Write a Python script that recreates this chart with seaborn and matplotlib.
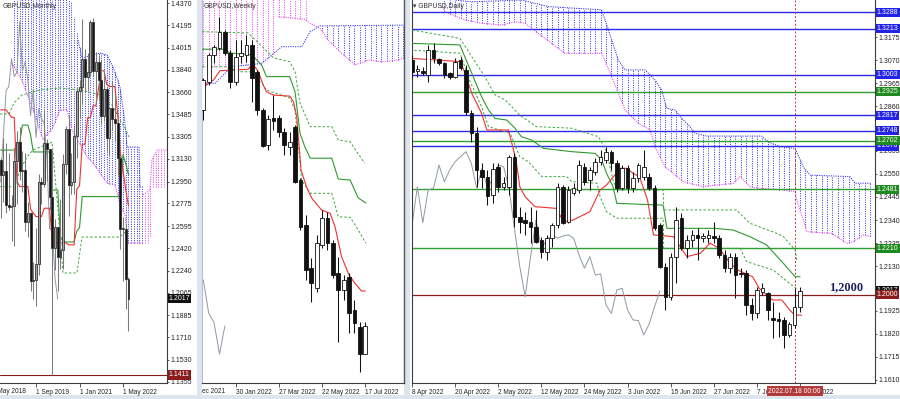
import numpy as np
import pandas as pd
import seaborn as sns
import matplotlib
matplotlib.use("Agg")
import matplotlib.pyplot as plt
import matplotlib.transforms as mtransforms
from matplotlib.patches import Rectangle

# ====================== DATA ======================
# ---- Monthly GBPUSD (Aug 2018 .. Jul 2022), index 0..47
M_open = [1.3120,1.2998,1.3034,1.2767,1.2749,1.2755,1.3114,1.3263,1.3030,1.3040,1.2630,1.2697,1.2162,1.2164,1.2291,1.2944,
          1.2932,1.3256,1.3208,1.2823,1.2418,1.2590,1.2346,1.2402,1.3093,1.3370,1.2920,1.2946,1.3313,1.3672,1.3705,1.3927,
          1.3785,1.3820,1.4222,1.3828,1.3902,1.3758,1.3474,1.3683,1.3300,1.3532,1.3447,1.3416,1.3138,1.2573,1.2575,1.2177]
M_high = [1.3140,1.3298,1.3258,1.3176,1.2840,1.3215,1.3350,1.3382,1.3196,1.3176,1.2783,1.2708,1.2310,1.2582,1.3012,1.2985,
          1.3515,1.3285,1.3200,1.3200,1.2648,1.2515,1.2813,1.3170,1.3394,1.3482,1.3177,1.3399,1.3703,1.3759,1.4240,1.4002,
          1.3976,1.4234,1.4250,1.3984,1.3959,1.3913,1.3834,1.3698,1.3546,1.3749,1.3643,1.3437,1.3167,1.2667,1.2618,1.2190]
M_low = [1.2662,1.2786,1.2696,1.2723,1.2477,1.2437,1.2773,1.2960,1.2866,1.2560,1.2506,1.2080,1.2015,1.1959,1.2205,1.2770,
         1.2905,1.2954,1.2725,1.1409,1.2247,1.2075,1.2252,1.2252,1.3006,1.2676,1.2853,1.2854,1.3135,1.3452,1.3566,1.3670,
         1.3669,1.3800,1.3786,1.3572,1.3602,1.3411,1.3434,1.3194,1.3161,1.3358,1.3273,1.3000,1.2411,1.2155,1.1933,1.1760]
M_close = [1.2998,1.3034,1.2767,1.2749,1.2755,1.3114,1.3263,1.3030,1.3040,1.2630,1.2697,1.2162,1.2164,1.2291,1.2944,1.2932,
           1.3256,1.3208,1.2823,1.2418,1.2590,1.2346,1.2402,1.3093,1.3370,1.2920,1.2946,1.3313,1.3672,1.3705,1.3927,1.3785,
           1.3820,1.4222,1.3828,1.3902,1.3758,1.3474,1.3683,1.3300,1.3532,1.3447,1.3416,1.3138,1.2573,1.2575,1.2177,1.2017]
M_tenkan = [1.3520,1.3520,1.3520,1.3490,1.3460,1.3460,1.2955,1.2910,1.2910,1.2910,1.2910,1.2731,1.2699,1.2671,1.2671,1.2671,
            1.2737,1.2737,1.2737,1.2462,1.2462,1.2462,1.2462,1.2462,1.2462,1.2446,1.2446,1.2446,1.2889,1.2917,1.3246,1.3246,
            1.3458,1.3458,1.3552,1.3552,1.3693,1.3831,1.3831,1.3722,1.3706,1.3706,1.3706,1.3492,1.3185,1.3034,1.2884,1.2755]
M_kijun = [1.3200,1.3200,1.3200,1.3200,1.3200,1.3200,1.3256,1.3256,1.3399,1.3399,1.3399,1.3320,1.3185,1.3185,1.3185,1.3185,
           1.3185,1.3185,1.3185,1.2882,1.2882,1.2882,1.2513,1.2469,1.2469,1.2469,1.2469,1.2469,1.2556,1.2584,1.2830,1.2830,
           1.2830,1.2830,1.2830,1.2830,1.2830,1.2830,1.2830,1.2830,1.2830,1.2830,1.2830,1.2830,1.2830,1.3163,1.3092,1.3005]
M_dashA_x = [-0.235,3.07,4.91,7.85,14.47,21.82,29.18,36.53,40.94,43.88,45.72,47.19]
M_dashA_y = [1.3487,1.3487,1.3575,1.3638,1.3678,1.3694,1.3678,1.3638,1.3559,1.3439,1.3376,1.3304]
M_dashB_x = [-0.235,5.28,7.12,9.69,11.9,18.15,18.88,21.09,22.93,28.07,29.91,43.88,45.72]
M_dashB_y = [1.2909,1.2909,1.3042,1.3145,1.3201,1.3256,1.3264,1.2723,1.2222,1.2222,1.2508,1.2508,1.2548]
# monthly cloud outlines (bar index, price)
M_cloud_top_x = [4.18, 25.5, 28.44, 29.91, 36.53, 39.1, 41.31, 43.88, 45.72, 46.46, 50.87, 51.24, 52.34]
M_cloud_top_y = [1.4450, 1.4450, 1.4076, 1.3932, 1.3972, 1.3956, 1.3861, 1.3702, 1.3415, 1.3224, 1.3224, 1.2906, 1.2906]
M_cloud_bot_x = [4.18, 8.22, 11.9, 15.57, 19.25, 21.82, 24.4, 26.24, 31.75, 33.96, 39.1, 42.04, 43.88, 45.72, 46.82, 52.34]
M_cloud_bot_y = [1.3893, 1.3734, 1.3519, 1.3280, 1.3384, 1.3519, 1.3519, 1.3360, 1.3145, 1.3097, 1.2938, 1.2922, 1.2763,
                 1.2684, 1.2461, 1.2461]
M_pink_top_x = [52.34, 54.9, 55.65, 57.49, 61.16]
M_pink_top_y = [1.2843, 1.2882, 1.3121, 1.3201, 1.3201]
M_pink_bot_x = [52.34, 54.9, 55.65, 61.16]
M_pink_bot_y = [1.2461, 1.2461, 1.2906, 1.2906]
M_ticks = [1.4370,1.4195,1.4015,1.3840,1.3660,1.3485,1.3305,1.3130,1.2950,1.2775,1.2595,1.2420,1.2240,1.2065,1.1885,1.1710,1.1530,1.1355]
M_dates = ["1 May 2018", "1 Sep 2019", "1 Jan 2021", "1 May 2022"]
M_date_pos = [-3, 13, 29, 45]
M_last = 1.2017
M_low_level = 1.1411

# ---- Weekly GBPUSD (week of 19 Dec 2021 .. 17 Jul 2022), index 0..30
W_open = [1.3229,1.3386,1.3537,1.3576,1.3665,1.3548,1.3386,1.3531,1.3537,1.3593,1.3442,1.3229,1.3034,1.3185,1.3185,1.3107,
          1.3023,1.3135,1.2838,1.2587,1.2347,1.2235,1.2475,1.2626,1.2486,1.2319,1.2224,1.2297,1.2112,1.2017,1.1866]
W_high = [1.3408,1.3548,1.3593,1.3749,1.3676,1.3565,1.3621,1.3621,1.3648,1.3621,1.3453,1.3241,1.3202,1.3313,1.3202,1.3129,
          1.3107,1.3146,1.2850,1.2643,1.2403,1.2531,1.2671,1.2660,1.2503,1.2408,1.2308,1.2319,1.2168,1.2045,1.2045]
W_low = [1.3174,1.3369,1.3492,1.3565,1.3537,1.3352,1.3369,1.3492,1.3498,1.3274,1.3202,1.3023,1.3006,1.3118,1.3079,1.2978,
         1.2978,1.2822,1.2559,1.2280,1.2157,1.2213,1.2459,1.2447,1.2291,1.1933,1.2168,1.1984,1.1984,1.1766,1.1866]
W_close = [1.3397,1.3537,1.3581,1.3665,1.3548,1.3386,1.3526,1.3548,1.3593,1.3408,1.3229,1.3028,1.3179,1.3168,1.3107,1.3034,
           1.3051,1.2827,1.2576,1.2336,1.2263,1.2486,1.2626,1.2486,1.2308,1.2224,1.2280,1.2095,1.2040,1.1866,1.2023]
W_tenkan_x = [-0.2,0.6,1.9,3.1,8.3,9.1,10.2,11.1,11.7,13,16,16.7,17.3,18.1,19.1,20.1,21.9,23.5,24.4,25.6,27,28.1,29.3,30]
W_tenkan_y = [1.3401,1.3369,1.3397,1.3449,1.3457,1.3490,1.3443,1.3369,1.3331,1.3313,1.3307,1.3276,1.3192,1.2894,1.2801,
              1.2736,1.2671,1.2652,1.2577,1.2410,1.2307,1.2261,1.2218,1.2218]
W_kijun_x = [-0.2,4.0,4.9,9.0,10.8,11.7,16.0,17.0,17.9,18.8,19.8,23.8,25.0,27.2,28.7,30.1]
W_kijun_y = [1.3569,1.3569,1.3548,1.3537,1.3481,1.3416,1.3416,1.3330,1.3101,1.3024,1.2960,1.2960,1.2844,1.2838,1.2738,1.2710]
W_dashA_x = [-0.2,8.3,10.8,13.0,16.0,17.0,17.9,19.8,23.8,25.0,27.2,28.4,29.9]
W_dashA_y = [1.3667,1.3660,1.3587,1.3520,1.3499,1.3443,1.3269,1.3136,1.3136,1.3062,1.3052,1.2997,1.2932]
W_dashB_x = [-0.2,4.6,6.5,8.6,10.8,11.7,16.0,17.0,18.2,19.8,23.8,25.0,27.2,28.7,30.1]
W_dashB_y = [1.3471,1.3471,1.3443,1.3443,1.3380,1.3341,1.3297,1.3229,1.2838,1.2764,1.2764,1.2633,1.2630,1.2559,1.2485]
W_spanA_x = [-0.2,0.6,2.2,5.2,10.8,12.7,14.5,18.2,19.8,21.6,38]
W_spanA_y = [1.3285,1.3379,1.3379,1.3471,1.3490,1.3537,1.3583,1.3583,1.3667,1.3699,1.3704]
W_spanB_x = [13.9,18.8,19.8,21.6,23.1,25.6,27.5,28.1,30.6,33.0,36.1,38]
W_spanB_y = [1.3751,1.3736,1.3714,1.3686,1.3621,1.3546,1.3499,1.3481,1.3509,1.3499,1.3509,1.3527]
W_pink_bot_x = [-0.2,5.2,10.8,12.7,13.8,13.9,18.8,19.8]
W_pink_bot_y = [1.3472,1.3471,1.3490,1.3537,1.3560,1.3751,1.3736,1.3714]
W_dates = ["5 Dec 2021", "30 Jan 2022", "27 Mar 2022", "22 May 2022", "17 Jul 2022"]
W_date_pos = [-2, 6, 14, 22, 30]

# ---- Daily GBPUSD (8 Apr 2022 .. 19 Jul 2022), index 0..72
D_open = [1.3070,1.3020,1.3018,1.3002,1.3116,1.3073,1.3055,1.3010,1.2994,1.3070,1.3025,1.2827,1.2736,1.2568,1.2538,1.2454,
          1.2583,1.2491,1.2492,1.2629,1.2355,1.2340,1.2332,1.2309,1.2249,1.2195,1.2256,1.2317,1.2492,1.2332,1.2463,1.2477,
          1.2583,1.2523,1.2560,1.2606,1.2614,1.2652,1.2599,1.2485,1.2576,1.2485,1.2530,1.2538,1.2538,1.2485,1.2317,1.2127,
          1.1990,1.2173,1.2348,1.2211,1.2249,1.2272,1.2257,1.2257,1.2267,1.2257,1.2180,1.2120,1.2173,1.2099,1.2097,1.1952,
          1.1914,1.2013,1.2008,1.1893,1.1888,1.1884,1.1815,1.1861,1.1944]
D_high = [1.3093,1.3047,1.3040,1.3139,1.3146,1.3079,1.3061,1.3017,1.3078,1.3085,1.3047,1.2842,1.2766,1.2600,1.2568,1.2600,
          1.2600,1.2538,1.2637,1.2644,1.2401,1.2378,1.2401,1.2386,1.2264,1.2272,1.2325,1.2507,1.2500,1.2495,1.2509,1.2614,
          1.2600,1.2583,1.2622,1.2660,1.2675,1.2660,1.2614,1.2591,1.2591,1.2560,1.2599,1.2660,1.2553,1.2500,1.2325,1.2142,
          1.2189,1.2401,1.2371,1.2272,1.2294,1.2302,1.2281,1.2294,1.2332,1.2272,1.2203,1.2188,1.2188,1.2120,1.2112,1.1983,
          1.2036,1.2051,1.2013,1.1967,1.1921,1.1899,1.1876,1.2028,1.2036]
D_low = [1.2988,1.2994,1.3002,1.2971,1.3057,1.3047,1.2987,1.2982,1.2987,1.3025,1.2819,1.2697,1.2492,1.2486,1.2408,1.2418,
         1.2469,1.2477,1.2454,1.2309,1.2279,1.2272,1.2234,1.2234,1.2165,1.2157,1.2218,1.2304,1.2322,1.2328,1.2454,1.2463,
         1.2500,1.2477,1.2545,1.2591,1.2599,1.2568,1.2469,1.2477,1.2462,1.2469,1.2515,1.2523,1.2477,1.2294,1.2120,1.1929,
         1.1975,1.2053,1.2203,1.2165,1.2218,1.2157,1.2241,1.2234,1.2234,1.2165,1.2104,1.2097,1.1983,1.2081,1.1906,1.1884,
         1.1891,1.1998,1.1884,1.1800,1.1807,1.1756,1.1807,1.1846,1.1921]
D_close = [1.3015,1.3029,1.3013,1.3116,1.3079,1.3055,1.3002,1.2994,1.3063,1.3032,1.2834,1.2736,1.2568,1.2538,1.2450,1.2571,
           1.2492,1.2509,1.2629,1.2355,1.2332,1.2328,1.2309,1.2241,1.2195,1.2256,1.2317,1.2492,1.2328,1.2477,1.2486,1.2591,
           1.2515,1.2568,1.2606,1.2629,1.2652,1.2599,1.2485,1.2576,1.2485,1.2530,1.2591,1.2583,1.2485,1.2302,1.2127,1.1990,
           1.2173,1.2340,1.2211,1.2249,1.2272,1.2257,1.2267,1.2272,1.2257,1.2180,1.2120,1.2173,1.2089,1.2094,1.1952,1.1914,
           1.2021,1.2028,1.1929,1.1884,1.1881,1.1815,1.1865,1.1944,1.2017]
D_tenkan_x = [-0.4,8.9,9.5,11.1,12.9,13.9,17.9,19.3,20,21,22.8,26.8,28.1,29.9,33,34.9,36.1,37.9,38.5,39.9,41,42.2,43.7,44.8,
              48.5,51,53.5,55.3,57,58.8,60.4,63.2,64.4,66.9,68.6,70.1,71,72.3]
D_tenkan_y = [1.3078,1.3063,1.3032,1.2918,1.2827,1.2751,1.2751,1.2614,1.2492,1.2446,1.2401,1.2393,1.2332,1.2340,1.2378,1.2477,
              1.2500,1.2553,1.2576,1.2576,1.2553,1.2538,1.2431,1.2272,1.2264,1.2173,1.2188,1.2234,1.2211,1.2150,1.2112,1.2081,
              1.2028,1.1975,1.1975,1.1929,1.1906,1.1906]
D_kijun_x = [0.06,8.9,9.8,12.9,14.2,15.4,17.6,19.1,20.3,22.2,24.4,29.6,34,35.2,36.1,37.3,38,46.6,47.3,56.2,59.6,62.7,65.8,
             68.9,71.1,72]
D_kijun_y = [1.3146,1.3139,1.3085,1.2903,1.2842,1.2804,1.2796,1.2759,1.2720,1.2705,1.2667,1.2652,1.2644,1.2614,1.2553,1.2492,
             1.2416,1.2408,1.2302,1.2302,1.2294,1.2264,1.2226,1.2142,1.2081,1.2081]
D_dashA_x = [0.06,8.9,11.1,13.5,15.4,17.3,20,23.1,29.6,34.6,36.1,37.3,38,46.6,46.7,60.2,62.7,67.7,68.9,71.1,71.4]
D_dashA_y = [1.3207,1.3169,1.3085,1.2994,1.2911,1.2888,1.2819,1.2766,1.2759,1.2720,1.2652,1.2523,1.2477,1.2477,1.2386,1.2386,
             1.2325,1.2279,1.2264,1.2203,1.2157]
D_dashB_x = [-0.4,8.9,10.8,12.9,14.2,18.2,20,21.6,24.1,28.7,29.6,34.3,34.9,36.1,38,46.6,46.7,60.9,62.1,67,68.9,70.8,71.4]
D_dashB_y = [1.3116,1.3101,1.2971,1.2857,1.2766,1.2736,1.2629,1.2606,1.2538,1.2538,1.2515,1.2508,1.2446,1.2378,1.2348,1.2348,
             1.2211,1.2211,1.2150,1.2112,1.2074,1.2036,1.2025]
D_cloud_top_x = [5.19,7.98,11.08,20.35,25.29,35.19,37.05,38.27,39.52,43.23,44.16,45.08,46.33,47.26,48.79,50.33,51.58,52.5,
                 54.67,64.88,66.1,68.27,71.06,72.6,73.84,81.26,82.19,85.29]
D_cloud_top_y = [1.3400,1.3344,1.3336,1.3344,1.3314,1.3299,1.3162,1.3070,1.3025,1.3025,1.3002,1.2979,1.2933,1.2850,1.2842,
                 1.2797,1.2766,1.2736,1.2723,1.2723,1.2697,1.2675,1.2667,1.2583,1.2545,1.2538,1.2508,1.2508]
D_cloud_bot_x = [5.19,6.12,9.83,12.93,16.64,19.11,20.96,23.43,25.92,28.39,35.19,37.05,39.52,41.99,44.16,45.08,46.94,50.33,
                 54.04,56.53,59.61,60.85,62.71,64.56,68.89,71.06,71.37,72.6,73.23,77.87,80.65,81.88,83.73,85.29]
D_cloud_bot_y = [1.3321,1.3291,1.3253,1.3238,1.3230,1.3245,1.3238,1.3192,1.3146,1.3101,1.3101,1.2994,1.2842,1.2781,1.2751,
                 1.2674,1.2583,1.2515,1.2492,1.2500,1.2507,1.2538,1.2492,1.2485,1.2477,1.2469,1.2431,1.2340,1.2287,1.2279,
                 1.2234,1.2241,1.2272,1.2264]
D_levels_blue = [1.3288, 1.3213, 1.3003, 1.2817, 1.2748, 1.2678]
D_levels_green = [1.2925, 1.2702, 1.2481, 1.2210]
D_level_key = 1.2000
D_last = 1.2017
D_ticks = [1.3175,1.3070,1.2965,1.2860,1.2655,1.2550,1.2445,1.2340,1.2235,1.2130,1.1925,1.1820,1.1715,1.1610]
D_dates = ["8 Apr 2022","20 Apr 2022","2 May 2022","12 May 2022","24 May 2022","3 Jun 2022","15 Jun 2022",
           "27 Jun 2022","7 Jul 2022","19 Jul 2022"]
D_date_pos = [0, 8, 16, 24, 32, 40, 48, 56, 64, 72]
D_cursor = 71
D_cursor_label = "2022.07.18 00:00"
D_note = "1,2000"

# ====================== STYLE ======================
sns.set_theme(style="white")
plt.rcParams['font.family'] = ['Liberation Sans', 'DejaVu Sans']

FW, FH = 900, 399
fig = plt.figure(figsize=(FW / 100, FH / 100), dpi=100)
fig.patch.set_facecolor('#dfe5ee')

BLUE = '#2b2bf0'
PINK = '#f03cf0'
RED = '#f03030'
GREEN = '#2e9a2e'
DGREEN = '#3aa83a'
GRAY = '#8e98a6'
AXC = '#3c3c3c'
LBL = 5.0


def fig_rect(x0, y0, x1, y1, fc, z=-5):
    fig.add_artist(Rectangle((x0 / FW, 1 - y1 / FH), (x1 - x0) / FW, (y1 - y0) / FH,
                             transform=fig.transFigure, fc=fc, ec='none', zorder=z))


def mk_axes(x0, y0, x1, y1):
    ax = fig.add_axes([x0 / FW, 1 - y1 / FH, (x1 - x0) / FW, (y1 - y0) / FH])
    ax.set_facecolor('white')
    for s in ax.spines.values():
        s.set_visible(False)
    ax.grid(False)
    return ax


def candles(ax, o, h, l, c, width, up_fc, dn_fc, edge, wick, minh):
    idx = np.arange(len(o))
    ax.vlines(idx, l, h, colors=wick, lw=0.75, zorder=4)
    for i, (oo, cc) in enumerate(zip(o, c)):
        lo, hi = min(oo, cc), max(oo, cc)
        up = cc >= oo
        ax.add_patch(Rectangle((i - width / 2, lo), width, max(hi - lo, minh),
                               fc=up_fc if up else dn_fc, ec=edge, lw=0.6, zorder=5))


def line(ax, xs, ys, color, ls='-', lw=0.8, z=3):
    df = pd.DataFrame({'x': xs, 'y': ys})
    sns.lineplot(data=df, x='x', y='y', ax=ax, color=color, linestyle=ls, linewidth=lw,
                 zorder=z, legend=False, sort=False, estimator=None)


def hatch(ax, xi, tx, ty, bx, by, color):
    t = np.interp(xi, tx, ty)
    b = np.interp(xi, bx, by)
    ax.vlines(xi, b, t, colors=color, linestyles=(0, (1.0, 1.4)), lw=0.7, zorder=1)


def price_axis(ax, ticks):
    ax.yaxis.tick_right()
    ax.set_yticks(ticks)
    ax.set_yticklabels([f"{t:.4f}" for t in ticks])
    ax.tick_params(axis='y', which='both', right=True, direction='out', length=1.6, width=0.6,
                   color=AXC, labelsize=LBL, labelcolor='#222222', pad=0.8)


def date_axis(ax, pos, labels, xlim, clipbox=None):
    inside = [(p, t) for p, t in zip(pos, labels) if xlim[0] <= p <= xlim[1]]
    ax.set_xticks([p for p, _ in inside])
    ax.set_xticklabels([t for _, t in inside], ha='left')
    ax.tick_params(axis='x', which='both', bottom=True, direction='out', length=3, width=0.6,
                   color=AXC, labelsize=4.7, labelcolor='#222222', pad=1.5)
    tr = mtransforms.blended_transform_factory(ax.transData, ax.transAxes)
    for p, t in zip(pos, labels):
        if p < xlim[0] or p > xlim[1]:
            txt = ax.text(p, -0.012, t, transform=tr, ha='left', va='top', fontsize=4.7,
                          color='#222222', clip_on=clipbox is not None)
            if clipbox is not None:
                txt.set_clip_box(clipbox)


def level_box(ax, price, text, fc, z=30):
    tr = mtransforms.blended_transform_factory(ax.transAxes, ax.transData) + \
        mtransforms.ScaledTranslation(1.8 / 100, 0, fig.dpi_scale_trans)
    ax.text(1.0, price, text, transform=tr, ha='left', va='center', fontsize=LBL, color='white',
            bbox=dict(boxstyle='square,pad=0.16', fc=fc, ec='none'), clip_on=False, zorder=z)


# window backgrounds
fig_rect(0, 0, 197, 395, 'white')
fig_rect(202, 0, 404, 395, 'white')
fig_rect(410, 0, 900, 395, 'white')

# ====================== MONTHLY ======================
axm = mk_axes(0, 0, 167, 383)
m_xlim = (-0.235, 61.16)
m_ylim = (1.13470, 1.43939)
hatch(axm, np.arange(5, 53), M_cloud_top_x, M_cloud_top_y, M_cloud_bot_x, M_cloud_bot_y, BLUE)
hatch(axm, np.arange(53, 62), M_pink_top_x, M_pink_top_y, M_pink_bot_x, M_pink_bot_y, PINK)
line(axm, M_cloud_top_x[2:], M_cloud_top_y[2:], BLUE, ls=(0, (1.2, 1.2)), lw=0.7, z=1)
line(axm, M_cloud_bot_x, M_cloud_bot_y, PINK, ls=(0, (1.2, 1.2)), lw=0.7, z=1)
line(axm, M_pink_top_x, M_pink_top_y, PINK, ls=(0, (1.2, 1.2)), lw=0.7, z=1)
axm.axhline(M_low_level, color='#8b1c1c', lw=0.8, zorder=2)
line(axm, np.arange(len(M_close) - 26), M_close[26:], GRAY, lw=0.7, z=2)
line(axm, M_dashA_x, M_dashA_y, DGREEN, ls=(0, (2.5, 2)), lw=0.7, z=3)
line(axm, M_dashB_x, M_dashB_y, DGREEN, ls=(0, (2.5, 2)), lw=0.7, z=3)
line(axm, np.arange(len(M_kijun)), M_kijun, GREEN, lw=0.8, z=3)
line(axm, np.arange(len(M_tenkan)), M_tenkan, RED, lw=0.8, z=3)
candles(axm, M_open, M_high, M_low, M_close, 0.72, '#a6a6a6', '#111111', '#333333', '#7a7a7a', 0.0006)
axm.set_xlim(*m_xlim)
axm.set_ylim(*m_ylim)
for s in ('right', 'bottom'):
    axm.spines[s].set_visible(True)
    axm.spines[s].set_color(AXC)
    axm.spines[s].set_linewidth(0.8)
price_axis(axm, M_ticks)
date_axis(axm, M_date_pos, M_dates, m_xlim)
axm.set_xlabel('')
axm.set_ylabel('')
level_box(axm, M_last, f"{M_last:.4f}", '#111111')
level_box(axm, M_low_level, f"{M_low_level:.4f}", '#8b1c1c')

# ====================== WEEKLY ======================
axw = mk_axes(202, 0, 404, 383)
w_xlim = (-0.24, 37.17)
w_ylim = (1.17041, 1.3844)
hatch(axw, np.arange(0, 20), [-1, 40], [1.40, 1.40], W_pink_bot_x, W_pink_bot_y, PINK)
hatch(axw, np.arange(22, 38), W_spanA_x, W_spanA_y, W_spanB_x, W_spanB_y, BLUE)
line(axw, W_spanA_x, W_spanA_y, BLUE, ls=(0, (1.2, 1.2)), lw=0.7, z=1)
line(axw, W_spanB_x, W_spanB_y, PINK, ls=(0, (1.2, 1.2)), lw=0.7, z=1)
line(axw, np.arange(len(W_close) - 26), W_close[26:], GRAY, lw=0.7, z=2)
line(axw, W_dashA_x, W_dashA_y, DGREEN, ls=(0, (2.5, 2)), lw=0.7, z=3)
line(axw, W_dashB_x, W_dashB_y, DGREEN, ls=(0, (2.5, 2)), lw=0.7, z=3)
line(axw, W_kijun_x, W_kijun_y, GREEN, lw=0.8, z=3)
line(axw, W_tenkan_x, W_tenkan_y, RED, lw=0.8, z=3)
candles(axw, W_open, W_high, W_low, W_close, 0.68, 'white', '#111111', '#111111', '#111111', 0.0004)
axw.set_xlim(*w_xlim)
axw.set_ylim(*w_ylim)
axw.spines['bottom'].set_visible(True)
axw.spines['bottom'].set_color(AXC)
axw.spines['bottom'].set_linewidth(0.8)
axw.spines['right'].set_visible(True)
axw.spines['right'].set_color('#555555')
axw.spines['right'].set_linewidth(1.0)
axw.spines['left'].set_visible(True)
axw.spines['left'].set_color('#b4c0d0')
axw.spines['left'].set_linewidth(0.8)
axw.set_yticks([])
wclip = mtransforms.Bbox.from_extents(202, 0, 404, FH)
date_axis(axw, W_date_pos, W_dates, w_xlim, clipbox=wclip)
axw.set_xlabel('')
axw.set_ylabel('')

# ====================== DAILY ======================
axd = mk_axes(411.5, 0, 875, 383)
d_xlim = (-0.093, 85.9)
d_ylim = (1.15961, 1.33441)
hatch(axd, np.arange(6, 86), D_cloud_top_x, D_cloud_top_y, D_cloud_bot_x, D_cloud_bot_y, BLUE)
line(axd, D_cloud_top_x, D_cloud_top_y, BLUE, ls=(0, (1.2, 1.2)), lw=0.7, z=1)
line(axd, D_cloud_bot_x, D_cloud_bot_y, PINK, ls=(0, (1.2, 1.2)), lw=0.7, z=1)
for v in D_levels_blue:
    axd.axhline(v, color=BLUE, lw=1.0, zorder=2)
for v in D_levels_green:
    axd.axhline(v, color='#2ea02e', lw=1.0, zorder=2)
axd.axhline(D_level_key, color='#8b1c1c', lw=0.9, zorder=2)
axd.axvline(D_cursor, color='#b83a3a', lw=0.7, ls=(0, (2, 2)), zorder=2)
line(axd, np.arange(len(D_close) - 26), D_close[26:], GRAY, lw=0.7, z=2)
line(axd, D_dashA_x, D_dashA_y, DGREEN, ls=(0, (2.5, 2)), lw=0.7, z=3)
line(axd, D_dashB_x, D_dashB_y, DGREEN, ls=(0, (2.5, 2)), lw=0.7, z=3)
line(axd, D_kijun_x, D_kijun_y, GREEN, lw=0.8, z=3)
line(axd, D_tenkan_x, D_tenkan_y, RED, lw=0.8, z=3)
candles(axd, D_open, D_high, D_low, D_close, 0.66, 'white', '#111111', '#111111', '#111111', 0.00035)
axd.set_xlim(*d_xlim)
axd.set_ylim(*d_ylim)
for s in ('left', 'right', 'bottom'):
    axd.spines[s].set_visible(True)
    axd.spines[s].set_color(AXC)
    axd.spines[s].set_linewidth(0.8)
price_axis(axd, D_ticks)
date_axis(axd, D_date_pos, D_dates, d_xlim)
axd.set_xlabel('')
axd.set_ylabel('')
for v in D_levels_blue:
    level_box(axd, v, f"{v:.4f}", '#2323e8')
for v in D_levels_green:
    level_box(axd, v, f"{v:.4f}", '#1f8a1f')
level_box(axd, D_last, f"{D_last:.4f}", '#111111')
level_box(axd, D_level_key, f"{D_level_key:.4f}", '#8b1c1c', z=31)
axd.text(80.5, 1.2034, D_note, ha='center', va='center', fontsize=8.8, fontweight='bold',
         family=['Liberation Serif', 'DejaVu Serif'], color='#1e1e5a', zorder=20)
trd = mtransforms.blended_transform_factory(axd.transData, axd.transAxes)
axd.text(D_cursor, -0.012, D_cursor_label, transform=trd, ha='center', va='top', fontsize=4.9,
         color='white', bbox=dict(boxstyle='square,pad=0.25', fc='#b33a3a', ec='none'), zorder=40, clip_on=False)

# panel titles
fig.text(3 / FW, 1 - 6 / FH, 'GBPUSD,Monthly', fontsize=4.9, color='#333333', va='center', ha='left')
fig.text(204 / FW, 1 - 6 / FH, 'GBPUSD,Weekly', fontsize=4.9, color='#333333', va='center', ha='left')
fig.text(413 / FW, 1 - 6 / FH, '\u25be GBPUSD,Daily', fontsize=4.9, color='#333333', va='center', ha='left')

fig.savefig('out.png', dpi=100, facecolor=fig.get_facecolor())
